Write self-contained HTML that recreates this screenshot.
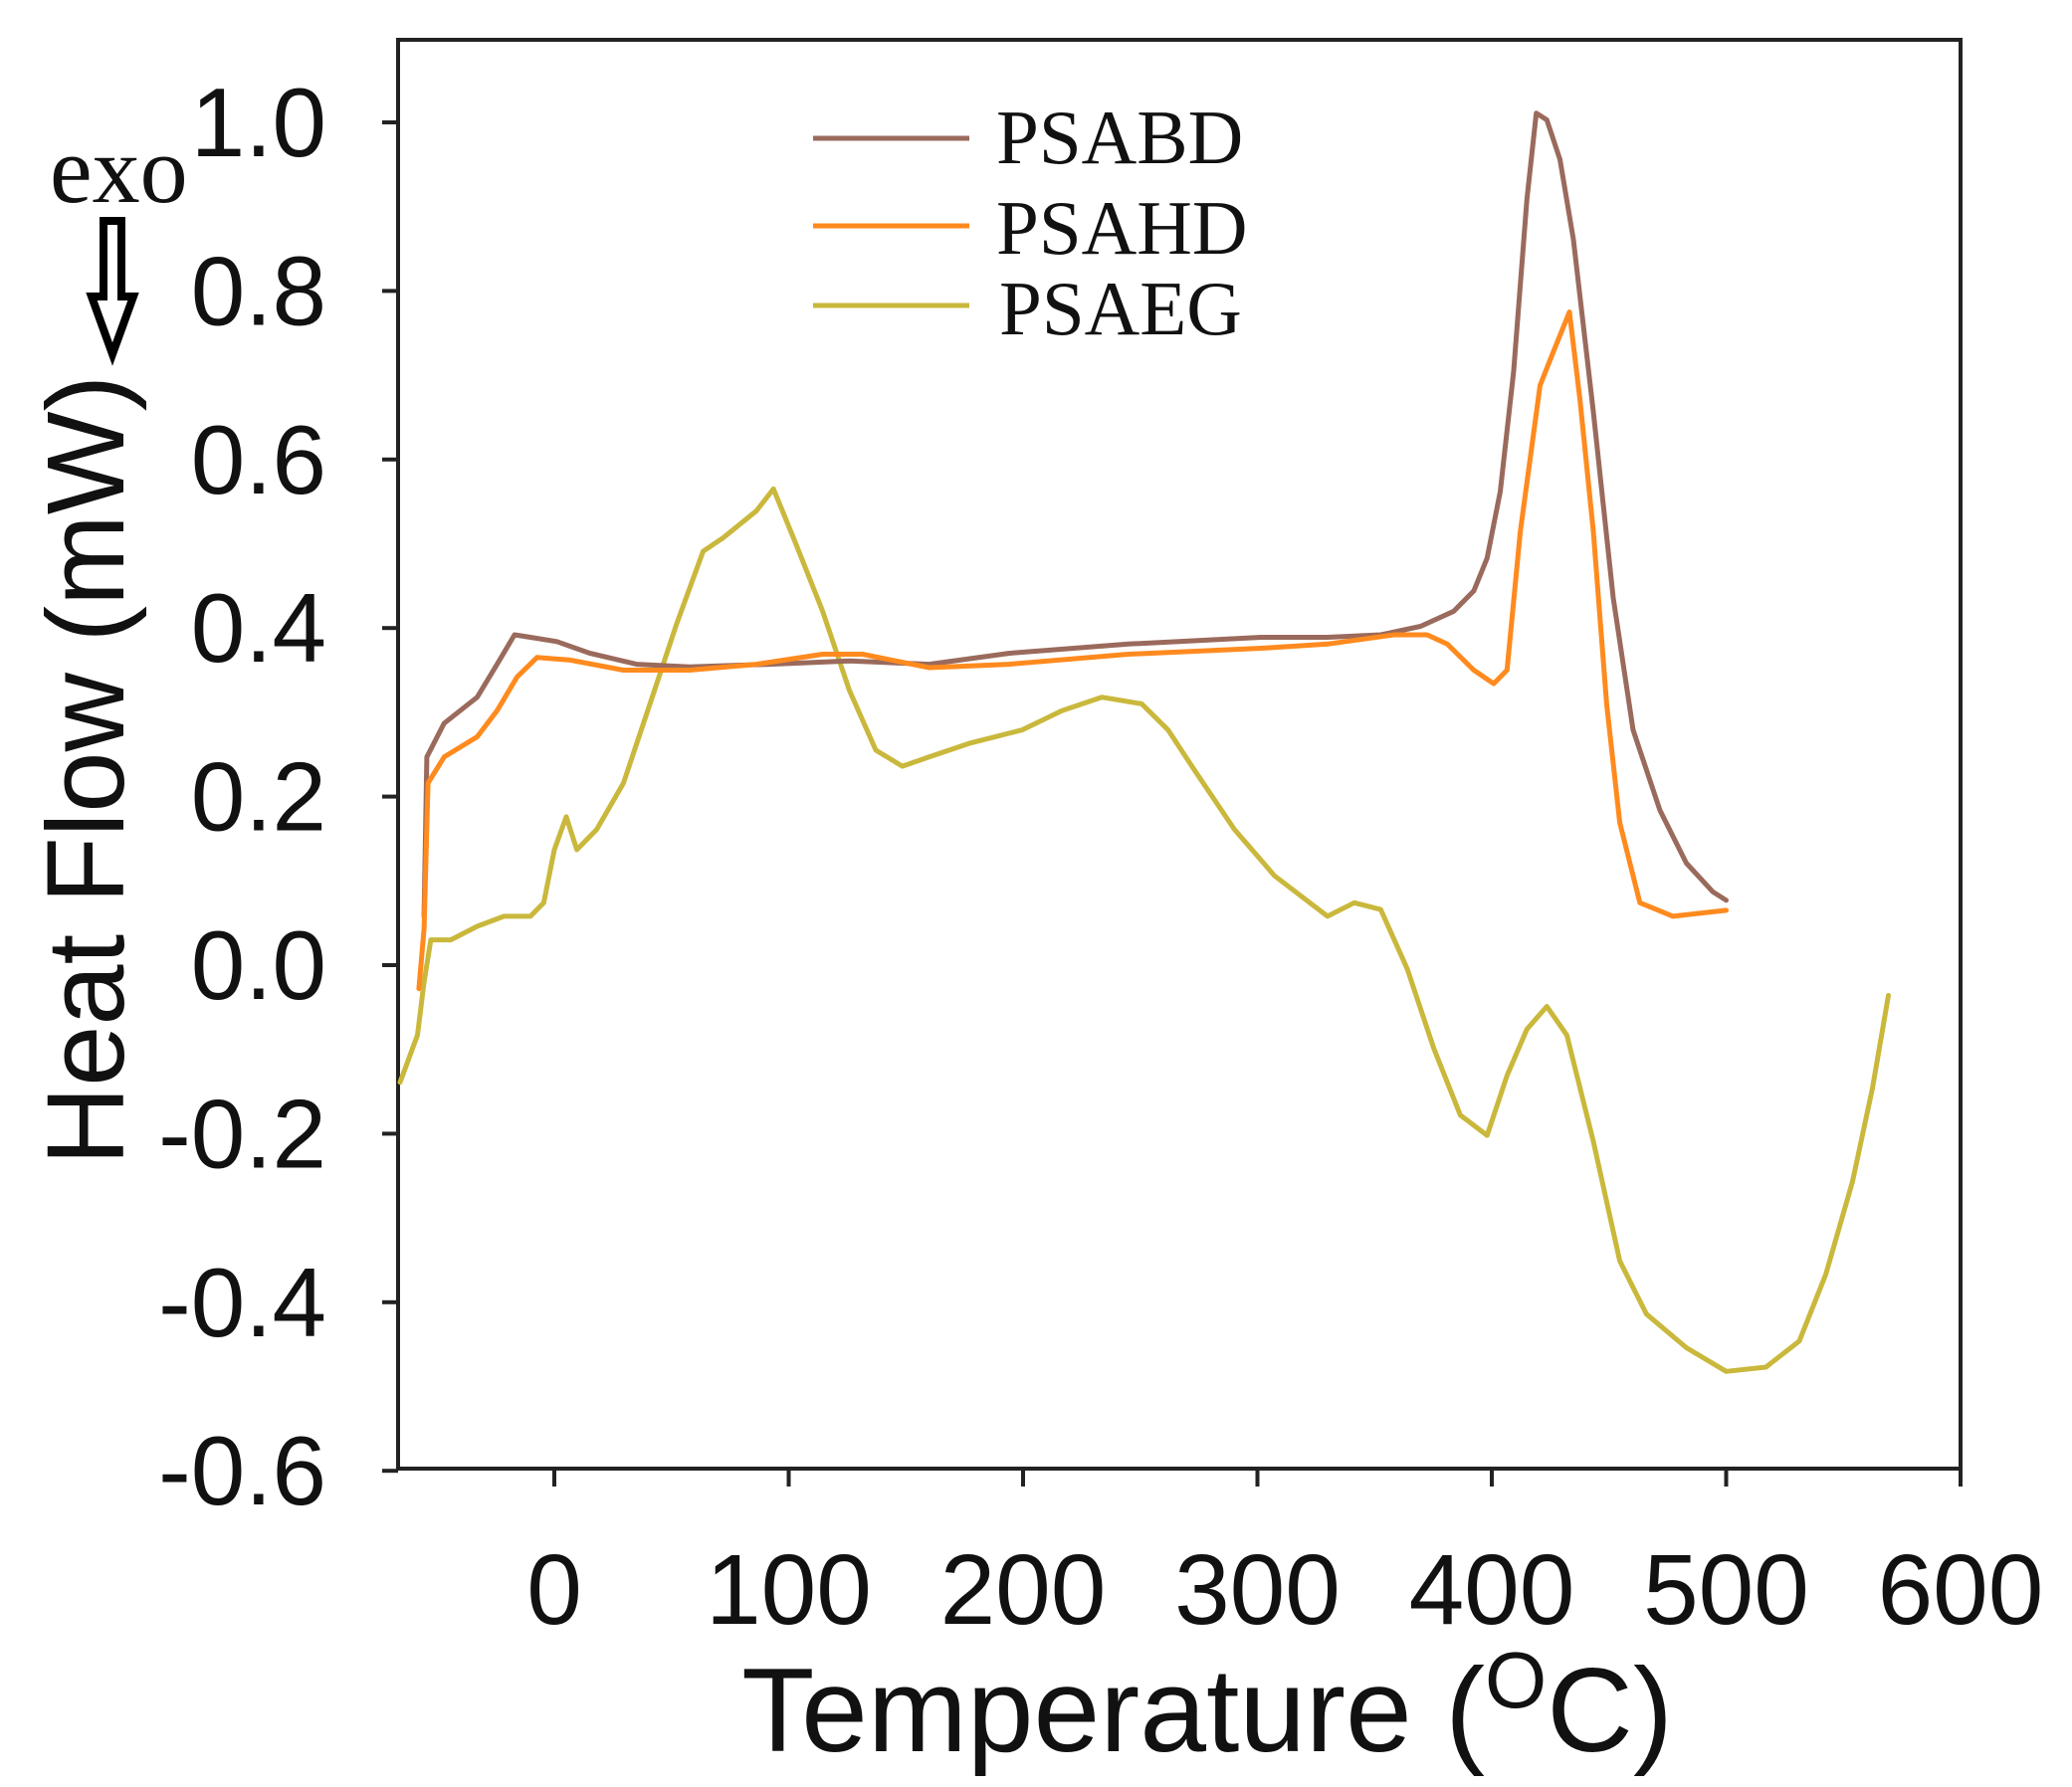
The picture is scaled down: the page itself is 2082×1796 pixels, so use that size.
<!DOCTYPE html>
<html><head><meta charset="utf-8"><style>
html,body{margin:0;padding:0;background:#fff;}
svg{display:block;}
</style></head><body>
<svg id="chart" width="2082" height="1796" viewBox="0 0 2082 1796" xmlns="http://www.w3.org/2000/svg">
<g id="axes"></g>
<g id="series"></g>
<g font-family="Liberation Serif, serif" font-size="77" fill="#111">
  <line x1="817" y1="139" x2="974" y2="139" stroke="#9a6a5c" stroke-width="5"/>
  <text x="1001" y="164">PSABD</text>
  <line x1="817" y1="227" x2="974" y2="227" stroke="#ff8a1e" stroke-width="5"/>
  <text x="1001" y="255">PSAHD</text>
  <line x1="817" y1="307" x2="974" y2="307" stroke="#c9b83c" stroke-width="5"/>
  <text x="1004" y="336">PSAEG</text>
</g>
<text x="50" y="203" font-family="Liberation Serif, serif" font-size="96" fill="#111">exo</text>
<path d="M104 222 H122 V298 H134 L113 356 L92 298 H104 Z" fill="#fff" stroke="#000" stroke-width="8" stroke-linejoin="miter"/>
<text transform="translate(124,774) rotate(-90)" text-anchor="middle" font-family="Liberation Sans, sans-serif" font-size="110" fill="#111">Heat Flow (mW)</text>
<text x="1213" y="1760" text-anchor="middle" font-family="Liberation Sans, sans-serif" font-size="120" fill="#111">Temperature (<tspan font-size="80" dy="-44">O</tspan><tspan dy="44">C)</tspan></text>
</svg>
<script>
const xTicks=[0,100,200,300,400,500,600];
const yTicks=[-0.6,-0.4,-0.2,0.0,0.2,0.4,0.6,0.8,1.0];
const yTickLabels=["-0.6","-0.4","-0.2","0.0","0.2","0.4","0.6","0.8","1.0"];
const bdT=[-55.6,-54.4,-47,-32.9,-24.4,-17,-10.2,1.1,15.3,35.1,57.8,91.8,125.9,159.9,193.9,244.9,301.6,329.9,352.6,369.6,383.8,392.3,398,403.6,409.3,415,419,423.5,429.1,434.8,443.3,451.8,460.3,471.7,483,494.3,500];
const bdH=[0.058,0.247,0.287,0.318,0.357,0.392,0.389,0.384,0.370,0.357,0.354,0.357,0.361,0.357,0.370,0.381,0.389,0.389,0.392,0.402,0.420,0.444,0.483,0.562,0.704,0.909,1.011,1.003,0.956,0.861,0.657,0.436,0.279,0.184,0.121,0.087,0.077];
const hdT=[-57.8,-55.6,-53.9,-47,-32.9,-24.4,-15.9,-7.4,6.8,29.5,57.8,86.2,114.5,131.5,159.9,193.9,244.9,301.6,329.9,358.3,372.4,381,392.3,400.8,406.5,412.2,420.6,426.3,433.1,437.6,443.3,449,454.6,463.2,477.3,500];
const hdH=[-0.028,0.043,0.216,0.247,0.271,0.302,0.342,0.365,0.362,0.350,0.350,0.357,0.369,0.369,0.353,0.357,0.369,0.376,0.381,0.392,0.392,0.381,0.350,0.334,0.350,0.515,0.688,0.728,0.775,0.672,0.515,0.310,0.169,0.074,0.058,0.065];
const egT=[-65.8,-58.4,-55.6,-52.7,-44.2,-32.9,-21.5,-10.2,-4.5,0,5.1,9.6,18.1,29.5,40.8,52.2,63.5,72,86.2,93.5,103.2,114.5,125.9,137.2,148.5,159.9,176.9,199.5,216.6,233.6,250.6,261.9,273.2,290.2,307.3,329.9,341.3,352.6,364,375.3,386.6,398,406.5,415,423.5,432,443.3,454.6,466,483,500,517,531.2,542.5,553.9,562.4,569.2];
const egH=[-0.139,-0.083,-0.020,0.030,0.030,0.046,0.058,0.058,0.074,0.137,0.176,0.137,0.161,0.216,0.310,0.405,0.491,0.507,0.539,0.565,0.499,0.420,0.326,0.255,0.236,0.247,0.263,0.279,0.302,0.318,0.310,0.279,0.231,0.161,0.106,0.058,0.074,0.066,-0.005,-0.099,-0.178,-0.202,-0.131,-0.076,-0.049,-0.083,-0.209,-0.351,-0.414,-0.454,-0.482,-0.477,-0.446,-0.367,-0.257,-0.146,-0.036];

const NS="http://www.w3.org/2000/svg";
const PL=400,PR=1970,PT=40,PB=1476;
const xS=t=>557+t*2.355;
const yS=v=>970-v*847;
const axes=document.getElementById('axes');
const ser=document.getElementById('series');
function mk(tag,attrs,parent){const e=document.createElementNS(NS,tag);for(const k in attrs)e.setAttribute(k,attrs[k]);parent.appendChild(e);return e;}
const frame=mk('rect',{x:PL,y:PT,width:PR-PL,height:PB-PT,fill:'none',stroke:'#222','stroke-width':4},axes);


xTicks.forEach(t=>{
  const x=xS(t);
  const l=mk('line',{x1:x,y1:PB,x2:x,y2:PB+18,stroke:'#222','stroke-width':4},axes);
  
  
  const tx=mk('text',{x:x,y:1632,'text-anchor':'middle','font-family':'Liberation Sans, sans-serif','font-size':100,fill:'#111'},axes);
  tx.textContent=String(t);
  
  
});
yTicks.forEach((v,i)=>{
  const y=yS(v);
  const l=mk('line',{x1:PL-16,y1:y,x2:PL,y2:y,stroke:'#222','stroke-width':4},axes);
  
  
  const tx=mk('text',{x:328,y:y+34,'text-anchor':'end','font-family':'Liberation Sans, sans-serif','font-size':98,fill:'#111'},axes);
  tx.textContent=yTickLabels[i];
  
  
});
function line(T,H,color,name){
  const d=T.map((t,i)=>(i?'L':'M')+xS(t).toFixed(1)+' '+yS(H[i]).toFixed(1)).join(' ');
  const p=mk('path',{d:d,fill:'none',stroke:color,'stroke-width':5,'stroke-linejoin':'round','stroke-linecap':'round'},ser);
  
  
}
line(egT,egH,'#c9b83c','series-psaeg');
line(bdT,bdH,'#9a6a5c','series-psabd');
line(hdT,hdH,'#ff8a1e','series-psahd');
</script>
</body></html>
